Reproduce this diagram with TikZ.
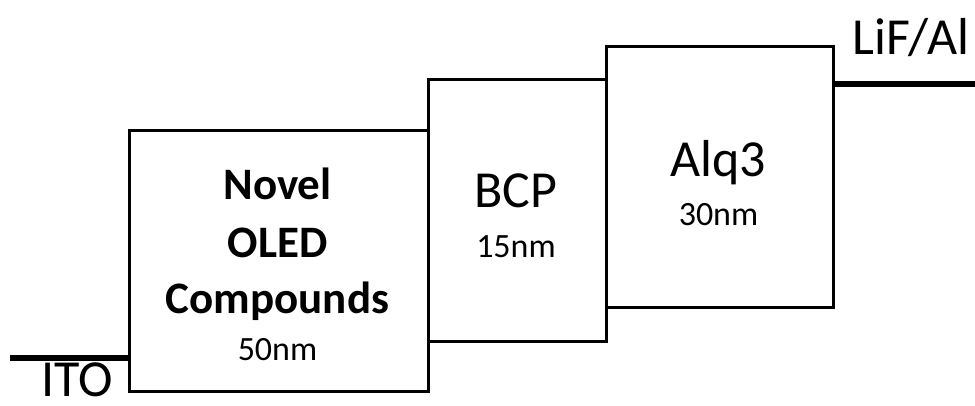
\documentclass[tikz,border=0pt]{standalone}
\usepackage{fontspec}
\setmainfont{Carlito}
\usetikzlibrary{positioning}
\tikzset{
    layer/.style={draw=black, rectangle, anchor=south west, inner sep=0pt, line width=3pt},
    electrode/.style={draw=black, line width=6pt},
    bigtext/.style={anchor=base, inner sep=0pt, font=\fontsize{52}{60}\selectfont},
    boldtext/.style={anchor=base, inner sep=0pt, font=\fontsize{45}{54}\selectfont\bfseries},
    smalltext/.style={anchor=base, inner sep=0pt, font=\fontsize{34}{40}\selectfont}
}
\begin{document}
\begin{tikzpicture}[x=1pt, y=1pt]
    \useasboundingbox (0,0) rectangle (975,405);

    % -----------------------------------------------------------------
    % STRATI
    % -----------------------------------------------------------------
    \node[layer, minimum width=299pt, minimum height=261pt] (novel) at (128,12) {};
    \node[layer, minimum width=178pt, minimum height=262pt] (bcp) at (427,62) {};
    \node[layer, minimum width=227pt, minimum height=261pt] (alq) at (605,96) {};

    % -----------------------------------------------------------------
    % ELETTRODI
    % -----------------------------------------------------------------
    \coordinate (ito) at (10,47);
    \coordinate (lif) at (975,321);
    \draw[electrode] (ito) -- (ito -| novel.west);
    \draw[electrode] (lif -| alq.east) -- (lif);
    \node[bigtext] (itolabel) at (77,9) {ITO};
    \node[bigtext] (liflabel) at (911,350) {LiF/Al};

    % -----------------------------------------------------------------
    % TESTI
    % -----------------------------------------------------------------
    \node[boldtext] (novelA) at (277.5,205) {Novel};
    \node[boldtext] (novelB) at (277.5,148) {OLED};
    \node[boldtext] (novelC) at (277.5,92) {Compounds};
    \node[smalltext] (novelD) at (277.5,45) {50nm};

    \node[bigtext] (bcpA) at (516,197) {BCP};
    \node[smalltext] (bcpB) at (516,148) {15nm};

    \node[bigtext] (alqA) at (718.5,228) {Alq3};
    \node[smalltext] (alqB) at (718.5,180) {30nm};
\end{tikzpicture}
\end{document}
